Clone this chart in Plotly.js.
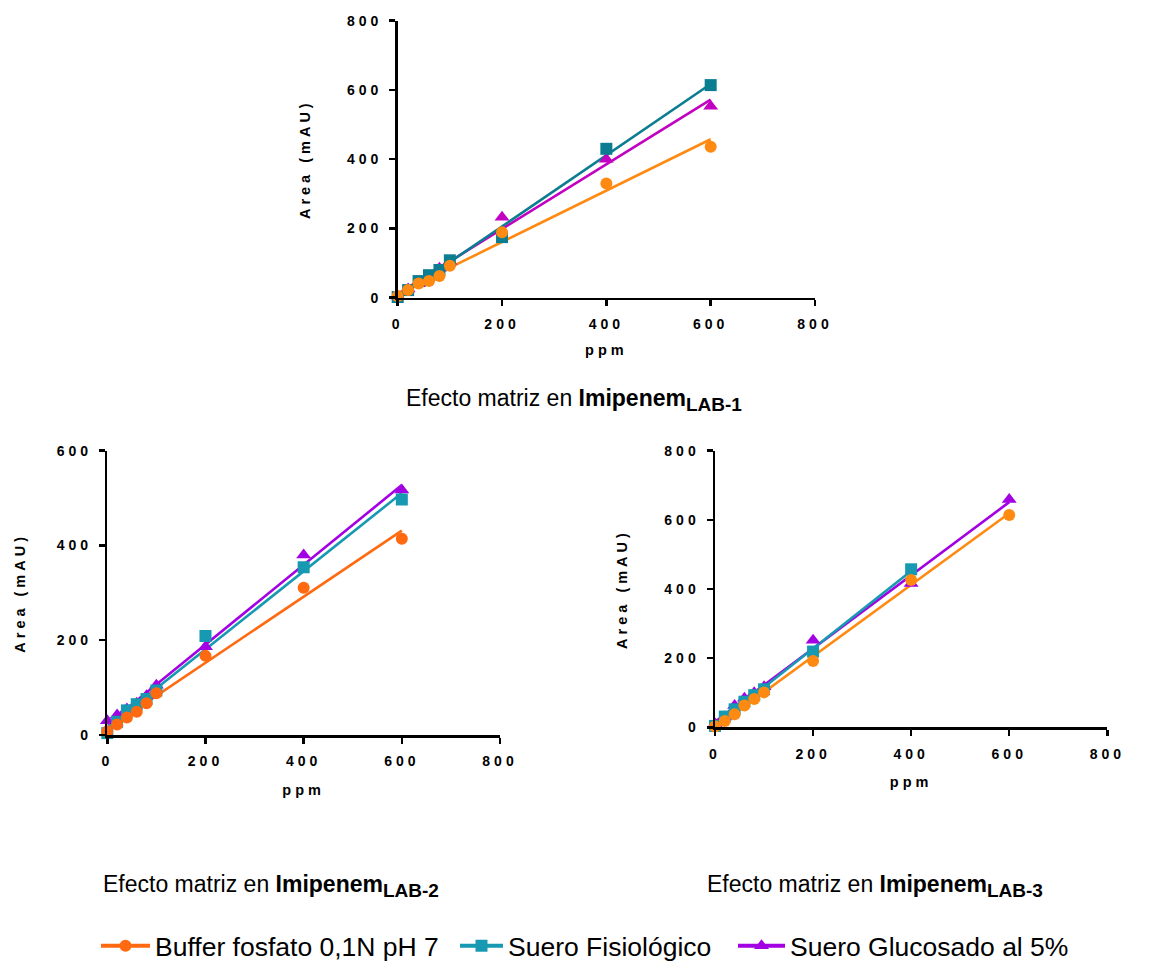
<!DOCTYPE html>
<html>
<head>
<meta charset="utf-8">
<script src="https://cdn.plot.ly/plotly-3.0.1.min.js"></script>
<style>
  html, body { margin: 0; padding: 0; background: #fff; }
  #chart { width: 1152px; height: 961px; }
  g.xtick text, g.x2tick text, g.x3tick text, g.ytick text, g.y2tick text, g.y3tick text { letter-spacing: 4px; }
  text.xtitle, text.ytitle, text.x2title, text.y2title, text.x3title, text.y3title { letter-spacing: 4px; }
</style>
</head>
<body>
<div id="chart"></div>
<script>
// ---------- data ----------
const ppm = [0, 20, 40, 60, 80, 100, 200, 400, 600];
const ppmLab3Fisio = [0, 20, 40, 60, 80, 100, 200, 400];

// Imipenem LAB-1
const lab1Buffer = [5, 22, 41, 48, 63, 92, 189, 330, 436];
const lab1Fisio  = [2, 22, 48, 65, 80, 108, 175, 430, 614];
const lab1Gluc   = [5, 25, 40, 60, 85, 105, 232, 400, 553];

// Imipenem LAB-2
const lab2Buffer = [8, 22, 37, 49, 67, 88, 167, 311, 414];
const lab2Fisio  = [4, 28, 52, 65, 76, 94, 209, 354, 497];
const lab2Gluc   = [30, 42, 55, 67, 83, 105, 186, 380, 517];

// Imipenem LAB-3
const lab3Buffer = [2, 18, 38, 63, 82, 101, 192, 426, 614];
const lab3Fisio  = [4, 31, 52, 74, 93, 110, 219, 457];
const lab3Gluc   = [10, 30, 63, 84, 100, 117, 252, 416, 659];

const seriesNames = ['Buffer fosfato 0,1N pH 7', 'Suero Fisiológico', 'Suero Glucosado al 5%'];
const captions = ['LAB-1', 'LAB-2', 'LAB-3'];
const xTicks = [0, 200, 400, 600, 800];

// ---------- helpers ----------
function linFit(x, y) {
  const n = x.length;
  const mx = x.reduce((a, b) => a + b, 0) / n;
  const my = y.reduce((a, b) => a + b, 0) / n;
  let sxy = 0, sxx = 0;
  for (let i = 0; i < n; i++) { sxy += (x[i] - mx) * (y[i] - my); sxx += (x[i] - mx) ** 2; }
  const b = sxy / sxx, a = my - b * mx;
  const x0 = Math.min(...x), x1 = Math.max(...x);
  return { x: [x0, x1], y: [a + b * x0, a + b * x1] };
}

const W = 1152, H = 961;
function domX(a, b) { return [a / W, b / W]; }
function domY(top, bottom) { return [(H - bottom) / H, (H - top) / H]; }

const FONT = 'Liberation Sans, Arial, Helvetica, sans-serif';

const panels = [
  { xa: 'x', ya: 'y', dx: domX(397.7, 815), dy: domY(20.7, 297.7), ymax: 800, ytStand: 33, xtStand: 14,
    data: [[ppm, lab1Buffer], [ppm, lab1Fisio], [ppm, lab1Gluc]],
    colors: ['#FF8A12', '#0C7D91', '#C100C1'] },
  { xa: 'x2', ya: 'y2', dx: domX(107.3, 500), dy: domY(450.7, 735), ymax: 600, ytStand: 28, xtStand: 17,
    data: [[ppm, lab2Buffer], [ppm, lab2Fisio], [ppm, lab2Gluc]],
    colors: ['#FF6A10', '#1699B1', '#A300E3'] },
  { xa: 'x3', ya: 'y3', dx: domX(715, 1107.3), dy: domY(450.7, 727.3), ymax: 800, ytStand: 34, xtStand: 17,
    data: [[ppm, lab3Buffer], [ppmLab3Fisio, lab3Fisio], [ppm, lab3Gluc]],
    colors: ['#FF8A12', '#1699B1', '#A300E3'] }
];

const symbols = ['circle', 'square', 'triangle-up'];
const sizes = [12, 12, 13];
const drawOrder = [2, 1, 0];

const traces = [];
panels.forEach(p => {
  drawOrder.forEach(i => {
    const f = linFit(p.data[i][0], p.data[i][1]);
    traces.push({ x: f.x, y: f.y, xaxis: p.xa, yaxis: p.ya, mode: 'lines',
      line: { color: p.colors[i], width: 2.6 }, showlegend: false, hoverinfo: 'skip' });
  });
  drawOrder.forEach(i => {
    traces.push({ x: p.data[i][0], y: p.data[i][1], xaxis: p.xa, yaxis: p.ya, mode: 'markers',
      marker: { symbol: symbols[i], size: sizes[i], color: p.colors[i] },
      cliponaxis: false, showlegend: false, name: seriesNames[i] });
  });
});

// legend entries (one legend per entry so each can sit where the reference has it)
const legendColors = ['#FF6A10', '#1699B1', '#A300E3'];
const legendIds = ['legend', 'legend2', 'legend3'];
[0, 1, 2].forEach(i => {
  traces.push({ x: [null], y: [null], xaxis: 'x', yaxis: 'y', mode: 'lines+markers', name: seriesNames[i],
    legend: legendIds[i],
    line: { color: legendColors[i], width: 4 },
    marker: { symbol: symbols[i], size: sizes[i], color: legendColors[i] }, showlegend: true });
});

function xaxis(p, anchor) {
  return { domain: p.dx, anchor: anchor, range: [0, 800], tickvals: xTicks, ticktext: xTicks.map(String),
    showline: true, linewidth: 2.5, linecolor: '#000', ticks: 'outside', ticklen: 6, tickwidth: 2.5, tickcolor: '#000',
    showgrid: false, zeroline: false, fixedrange: true, ticklabelstandoff: 6,
    tickfont: { family: FONT, size: 14, color: '#000', weight: 'bold' },
    title: { text: 'ppm', standoff: p.xtStand, font: { family: FONT, size: 14.5, color: '#000', weight: 'bold' } } };
}
function yaxis(p, anchor) {
  const tv = []; for (let v = 0; v <= p.ymax; v += 200) tv.push(v);
  return { domain: p.dy, anchor: anchor, range: [0, p.ymax], tickvals: tv, ticktext: tv.map(String),
    showline: true, linewidth: 2.5, linecolor: '#000', ticks: 'outside', ticklen: 6, tickwidth: 2.5, tickcolor: '#000',
    showgrid: false, zeroline: false, fixedrange: true, ticklabelstandoff: 4,
    tickfont: { family: FONT, size: 14, color: '#000', weight: 'bold' },
    title: { text: 'Area (mAU)', standoff: p.ytStand, font: { family: FONT, size: 14.5, color: '#000', weight: 'bold' } } };
}

function legendAt(px, iw) {
  return { orientation: 'h', x: px / W, y: (H - 946) / H, xanchor: 'left', yanchor: 'middle',
    font: { family: FONT, size: 26.5, color: '#000' }, bgcolor: 'rgba(0,0,0,0)', itemwidth: iw };
}

function caption(px, py, lab) {
  return { x: px / W, y: (H - py) / H, xref: 'paper', yref: 'paper', xanchor: 'left', yanchor: 'middle', showarrow: false,
    text: 'Efecto matriz en <b>Imipenem</b><sub><span style="font-size:19px"><b>' + lab + '</b></span></sub>',
    font: { family: FONT, size: 23, color: '#000' } };
}

const layout = {
  width: W, height: H, margin: { l: 0, r: 0, t: 0, b: 0, autoexpand: false },
  paper_bgcolor: '#fff', plot_bgcolor: 'rgba(0,0,0,0)',
  xaxis: xaxis(panels[0], 'y'), yaxis: yaxis(panels[0], 'x'),
  xaxis2: xaxis(panels[1], 'y2'), yaxis2: yaxis(panels[1], 'x2'),
  xaxis3: xaxis(panels[2], 'y3'), yaxis3: yaxis(panels[2], 'x3'),
  showlegend: true,
  legend: legendAt(96, 49), legend2: legendAt(455, 43), legend3: legendAt(733, 47),
  annotations: [caption(404, 400, captions[0]), caption(101, 886, captions[1]), caption(705, 886, captions[2])]
};

Plotly.newPlot('chart', traces, layout, { displayModeBar: false, staticPlot: true });
</script>
</body>
</html>
